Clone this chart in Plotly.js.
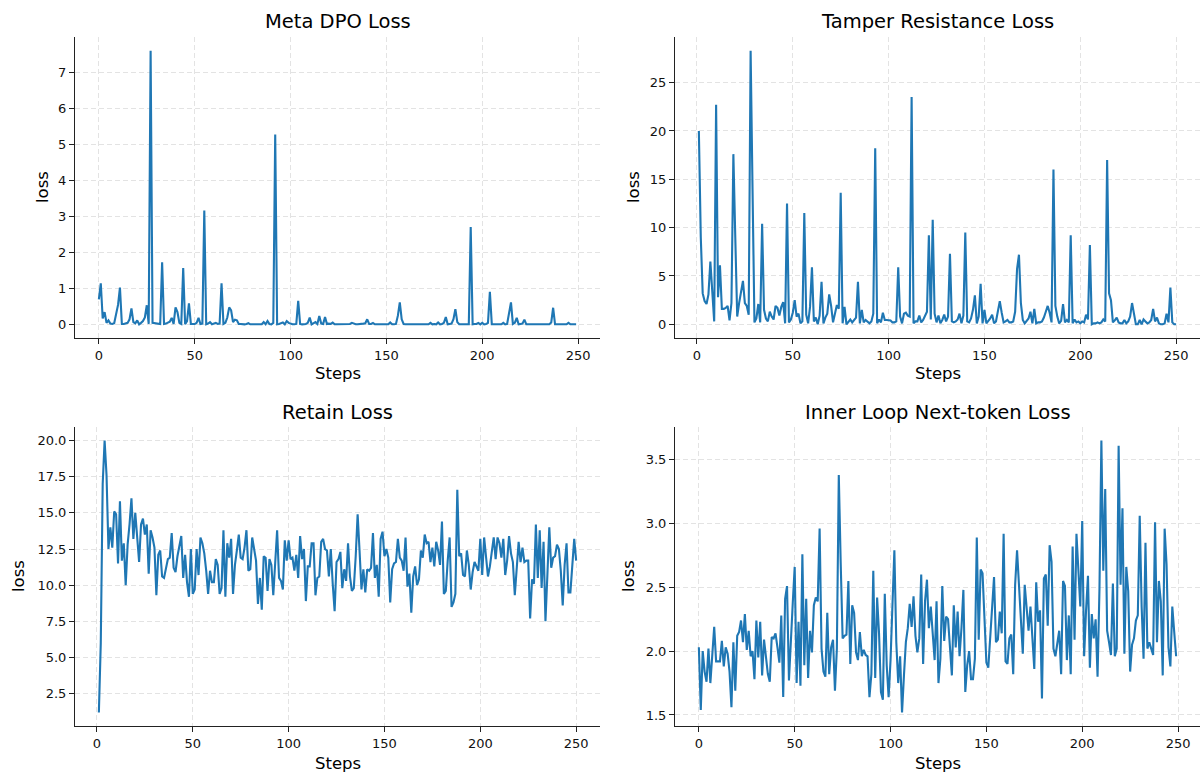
<!DOCTYPE html>
<html><head><meta charset="utf-8">
<script src="https://cdn.plot.ly/plotly-3.0.1.min.js"></script>
<style>html,body{margin:0;padding:0;background:#fff}#chart{width:1200px;height:774px}</style>
</head><body><div id="chart"></div>
<script>
// ---- data ----
const panelTitles = ["Meta DPO Loss", "Tamper Resistance Loss", "Retain Loss", "Inner Loop Next-token Loss"];
const xLabel = "Steps";
const yLabel = "loss";
const stepTicks = [0, 50, 100, 150, 200, 250];
const metaDpoTicks = [0, 1, 2, 3, 4, 5, 6, 7];
const tamperTicks = [0, 5, 10, 15, 20, 25];
const retainTicks = [2.5, 5.0, 7.5, 10.0, 12.5, 15.0, 17.5, 20.0];
const innerTicks = [1.5, 2.0, 2.5, 3.0, 3.5];

// steps 0..249
const metaDpoLoss = [
0.70,1.15,0.17,0.35,0.05,0.12,0.03,0.02,0.04,0.30,
0.55,1.03,0.02,0.02,0.03,0.05,0.15,0.45,0.07,0.04,
0.12,0.01,0.05,0.10,0.20,0.54,0.02,7.61,0.05,0.04,
0.03,0.02,0.02,1.73,0.02,0.03,0.06,0.08,0.19,0.02,
0.48,0.35,0.05,0.02,1.57,0.01,0.10,0.59,0.02,0.02,
0.02,0.05,0.19,0.02,0.03,3.17,0.01,0.03,0.07,0.01,
0.03,0.05,0.02,0.03,1.15,0.02,0.05,0.20,0.48,0.40,
0.07,0.14,0.12,0.02,0.02,0.01,0.01,0.02,0.04,0.01,
0.01,0.01,0.01,0.01,0.02,0.01,0.07,0.01,0.10,0.02,
0.01,0.05,5.28,0.01,0.02,0.03,0.06,0.01,0.10,0.05,
0.02,0.01,0.01,0.02,0.66,0.02,0.01,0.01,0.02,0.05,
0.20,0.01,0.03,0.07,0.02,0.24,0.03,0.02,0.21,0.02,
0.03,0.02,0.06,0.01,0.01,0.01,0.01,0.01,0.02,0.01,
0.01,0.02,0.05,0.02,0.01,0.01,0.01,0.02,0.03,0.04,
0.15,0.02,0.02,0.05,0.01,0.01,0.01,0.01,0.01,0.01,
0.01,0.01,0.06,0.01,0.01,0.02,0.25,0.62,0.15,0.02,
0.01,0.01,0.01,0.01,0.01,0.01,0.01,0.01,0.01,0.01,
0.01,0.01,0.01,0.05,0.01,0.02,0.01,0.06,0.01,0.02,
0.05,0.21,0.01,0.02,0.03,0.15,0.43,0.07,0.01,0.01,
0.01,0.01,0.01,0.01,2.71,0.01,0.02,0.02,0.05,0.01,
0.05,0.01,0.02,0.05,0.91,0.01,0.01,0.01,0.01,0.01,
0.01,0.05,0.01,0.02,0.30,0.62,0.02,0.05,0.19,0.01,
0.02,0.03,0.14,0.01,0.01,0.01,0.01,0.01,0.01,0.01,
0.01,0.01,0.01,0.01,0.01,0.01,0.06,0.47,0.01,0.01,
0.01,0.01,0.01,0.01,0.01,0.05,0.01,0.01,0.01,0.01
];

// steps 1..250
const tamperLoss = [
20.0,9.0,3.2,2.4,2.1,3.1,6.5,2.9,0.3,22.7,
2.8,6.1,1.6,1.6,1.7,1.9,0.4,2.2,17.6,9.0,
0.8,2.2,3.3,4.5,2.2,1.9,1.0,28.3,14.0,0.2,
0.6,2.1,0.2,10.4,1.5,0.6,0.3,1.3,0.8,0.5,
1.9,1.7,0.9,1.8,2.3,0.1,12.5,0.2,0.5,1.2,
2.5,0.8,1.1,0.1,0.3,11.5,1.0,0.1,1.8,5.9,
0.3,0.7,0.0,0.9,4.4,0.1,0.7,1.1,3.1,1.9,
0.2,1.3,2.0,1.6,13.6,0.1,1.8,0.0,0.3,0.5,
0.2,0.5,0.7,4.4,0.1,1.5,0.2,0.45,0.3,0.1,
0.3,1.1,18.2,0.1,0.5,0.2,1.2,0.45,0.45,0.4,
0.4,0.2,0.2,0.3,5.9,0.8,0.1,1.1,1.2,0.9,
0.8,23.5,0.1,0.3,0.3,0.9,0.2,0.45,0.9,1.3,
9.2,0.5,10.8,1.1,0.2,0.9,0.1,0.45,1.0,0.3,
0.8,7.3,0.3,0.2,0.3,0.5,1.1,0.1,0.9,9.5,
0.3,0.2,0.6,1.5,3.0,0.1,0.8,4.2,0.1,1.5,
0.1,0.3,0.6,1.0,0.1,0.3,1.4,2.4,1.2,0.2,
0.3,0.45,0.2,0.2,0.3,1.3,5.7,7.2,2.2,0.45,
0.1,0.3,0.6,1.3,0.1,1.6,0.1,0.2,0.2,0.3,
0.7,1.3,1.9,1.2,0.2,16.0,1.9,0.8,0.1,0.35,
2.1,0.2,0.45,0.2,9.2,0.1,0.5,0.2,0.3,0.1,
0.3,0.2,1.0,0.5,8.2,0.0,0.1,0.1,0.2,0.1,
0.2,0.5,0.3,17.0,3.2,2.5,0.2,0.4,0.7,0.2,
0.1,0.1,0.45,0.1,0.3,0.8,2.2,1.1,0.0,0.0,
0.45,0.0,0.5,0.3,0.1,0.2,0.45,1.6,0.3,0.7,
0.1,0.0,0.0,0.1,1.1,0.2,3.8,0.2,0.0,0.0
];

// steps 1..250
const retainLoss = [
1.2,6.0,17.0,20.0,17.6,12.5,14.0,12.6,15.1,14.9,
11.5,15.8,11.7,12.9,10.0,12.8,14.2,16.0,13.2,15.0,
13.3,11.6,14.2,14.6,13.5,14.2,10.8,13.8,13.3,12.6,
9.3,12.1,12.4,10.6,10.5,11.2,11.8,11.9,13.6,11.2,
10.9,12.0,12.8,13.4,10.5,12.1,10.2,9.2,12.5,9.4,
9.7,12.5,10.7,13.3,12.9,12.2,11.0,9.4,11.0,10.2,
10.2,11.8,11.4,9.4,9.8,13.8,9.2,12.9,11.9,13.2,
9.4,11.4,12.4,13.5,11.9,11.8,12.6,13.8,11.0,11.1,
13.3,12.4,11.7,8.7,10.5,8.3,12.0,11.9,9.6,11.8,
11.4,9.3,11.2,13.8,10.5,10.3,9.7,13.1,11.7,13.1,
11.8,11.9,11.0,12.1,10.5,13.4,11.8,12.5,8.9,11.3,
11.3,12.9,12.9,9.3,10.5,10.6,13.0,13.2,12.5,12.4,
10.6,12.5,10.1,8.2,11.6,11.8,12.3,9.8,11.1,10.3,
12.9,10.6,9.6,9.8,12.0,14.9,12.4,9.7,11.1,9.5,
11.1,11.0,11.2,13.6,10.5,11.4,9.2,13.2,13.7,12.0,
12.5,11.9,8.8,11.1,11.5,11.6,13.2,11.9,11.7,11.0,
13.3,9.9,10.8,8.1,10.6,11.3,10.0,10.4,12.4,11.9,
13.5,12.9,13.0,11.6,12.6,11.3,13.0,12.4,11.4,14.4,
9.4,9.6,11.7,13.3,8.5,8.8,9.4,16.6,12.0,12.2,
10.7,10.6,12.4,11.4,9.7,10.9,11.6,11.3,11.0,13.2,
10.7,13.3,11.7,10.6,11.3,12.5,13.3,11.8,13.3,12.9,
11.9,13.2,10.7,11.7,13.4,12.2,11.6,9.3,11.3,13.0,
11.6,12.6,11.6,11.7,11.7,7.7,10.4,10.1,14.2,10.5,
13.8,9.8,13.0,7.5,10.7,14.0,11.2,11.9,12.0,12.8,
12.5,11.0,8.6,11.4,12.9,9.5,9.5,11.3,13.2,11.7
];

// steps 0..249
const innerLoopLoss = [
2.03,1.54,2.00,1.84,1.76,2.02,1.75,1.94,2.19,1.92,
1.92,1.92,2.08,1.88,2.03,1.98,1.84,1.56,2.07,1.69,
2.12,2.15,2.24,2.07,2.29,2.01,2.16,1.96,2.00,1.78,
2.24,1.95,2.23,1.81,2.09,1.94,1.82,1.76,2.11,2.10,
2.14,2.03,1.91,2.28,1.64,2.41,2.51,1.77,2.13,2.38,
2.66,1.75,2.23,1.73,2.76,1.89,2.41,1.79,2.16,1.99,
2.36,2.42,2.39,2.96,2.02,1.84,1.80,2.30,1.82,2.03,
2.09,1.69,2.02,3.38,2.69,2.10,2.12,2.13,2.55,1.90,
2.36,2.30,1.99,1.93,2.15,1.96,2.01,1.97,1.96,1.64,
1.82,2.63,1.79,2.42,2.14,1.68,1.62,2.45,1.89,1.64,
1.93,2.36,2.79,2.07,1.75,1.96,1.52,1.81,2.07,2.18,
2.37,2.19,2.43,2.12,1.99,2.10,2.60,1.90,2.39,2.56,
2.18,2.35,2.13,1.93,2.39,1.75,1.94,2.51,2.08,2.27,
2.25,2.03,1.81,2.36,2.03,2.31,1.96,2.18,2.48,1.68,
1.89,2.00,1.78,1.78,1.94,2.89,2.09,2.64,2.61,2.26,
1.91,1.87,2.13,2.40,2.58,2.07,2.09,2.31,2.14,2.92,
1.92,1.90,2.10,2.13,1.82,2.52,2.79,2.52,2.23,1.98,
2.52,2.31,2.16,2.35,2.07,1.86,2.54,2.23,2.32,1.63,
2.57,2.60,2.20,2.83,2.70,2.02,1.96,2.05,2.16,1.82,
2.55,2.51,1.93,2.28,1.82,2.82,2.09,2.92,2.61,2.35,
3.02,1.96,2.32,2.59,1.87,2.29,2.10,2.25,1.80,2.49,
3.65,2.63,3.27,2.16,2.07,1.97,2.53,1.96,2.02,3.61,
2.52,3.12,1.98,2.66,2.47,1.84,2.05,2.10,2.24,2.28,
3.06,2.35,1.94,2.85,2.02,2.07,2.02,1.97,3.01,2.07,
2.55,2.39,1.81,2.96,2.68,2.03,1.88,2.35,2.15,1.96
];

// ---- layout helpers (pixel geometry of the 1200x774 figure) ----
const W = 1200, H = 774;
const fx = p => p / W;
const fy = p => 1 - p / H;
const LINE = '#1f77b4';
const FONT = 'DejaVu Sans, Liberation Sans, sans-serif';

function mk(y, x0, xa, ya) {
  return {type: 'scatter', mode: 'lines', y: y, x0: x0, dx: 1,
          xaxis: xa, yaxis: ya, line: {color: LINE, width: 2.1}, hoverinfo: 'skip', showlegend: false};
}
const traces = [
  mk(metaDpoLoss, 0, 'x', 'y'),
  mk(tamperLoss, 1, 'x2', 'y2'),
  mk(retainLoss, 1, 'x3', 'y3'),
  mk(innerLoopLoss, 0, 'x4', 'y4')
];

function pad(lo, hi) { const m = (hi - lo) * 0.05; return [lo - m, hi + m]; }
function minmax(a) { return [Math.min(...a), Math.max(...a)]; }

const common = {
  ticks: 'outside', ticklen: 5, tickwidth: 1, tickcolor: '#222',
  showline: true, linecolor: '#222', linewidth: 1, mirror: false,
  showgrid: true, gridcolor: '#e3e3e3', gridwidth: 1, griddash: '5px,3px',
  zeroline: false, tickfont: {family: FONT, size: 13, color: '#111'}, fixedrange: true
};
function xa(dom, anchor, first, n) {
  return Object.assign({}, common, {domain: dom, anchor: anchor,
    range: pad(first, first + n - 1), tickmode: 'array', tickvals: stepTicks, ticktext: stepTicks.map(String)});
}
function ya(dom, anchor, data, ticks, fmt) {
  const mm = minmax(data);
  return Object.assign({}, common, {domain: dom, anchor: anchor,
    range: pad(mm[0], mm[1]), tickmode: 'array', tickvals: ticks, ticktext: ticks.map(v => fmt(v))});
}
const intF = v => String(v);
const oneF = v => v.toFixed(1);

const leftX = [fx(75), fx(600)], rightX = [fx(675), fx(1200)];
const topY = [fy(338), fy(37)], botY = [fy(726), fy(427)];

function ann(text, x, y, size, angle) {
  return {text: text, x: fx(x), y: fy(y), xref: 'paper', yref: 'paper', showarrow: false,
          xanchor: 'center', yanchor: 'middle', textangle: angle || 0,
          font: {family: FONT, size: size, color: '#000'}};
}

const layout = {
  width: W, height: H, margin: {l: 0, r: 0, t: 0, b: 0},
  paper_bgcolor: '#fff', plot_bgcolor: '#fff', showlegend: false,
  xaxis: xa(leftX, 'y', 0, metaDpoLoss.length),
  yaxis: ya(topY, 'x', metaDpoLoss, metaDpoTicks, intF),
  xaxis2: xa(rightX, 'y2', 1, tamperLoss.length),
  yaxis2: ya(topY, 'x2', tamperLoss, tamperTicks, intF),
  xaxis3: xa(leftX, 'y3', 1, retainLoss.length),
  yaxis3: ya(botY, 'x3', retainLoss, retainTicks, oneF),
  xaxis4: xa(rightX, 'y4', 0, innerLoopLoss.length),
  yaxis4: ya(botY, 'x4', innerLoopLoss, innerTicks, oneF),
  annotations: [
    ann(panelTitles[0], 337.5, 22, 19.5), ann(panelTitles[1], 937.5, 22, 19.5),
    ann(panelTitles[2], 337.5, 412, 19.5), ann(panelTitles[3], 937.5, 412, 19.5),
    ann(xLabel, 337.5, 373, 16.5), ann(xLabel, 937.5, 373, 16.5),
    ann(xLabel, 337.5, 763, 16.5), ann(xLabel, 937.5, 763, 16.5),
    ann(yLabel, 42, 187, 16.5, -90), ann(yLabel, 633, 187, 16.5, -90),
    ann(yLabel, 18, 576, 16.5, -90), ann(yLabel, 628, 576, 16.5, -90)
  ]
};

Plotly.newPlot('chart', traces, layout, {staticPlot: true, displayModeBar: false});
</script>
</body></html>
